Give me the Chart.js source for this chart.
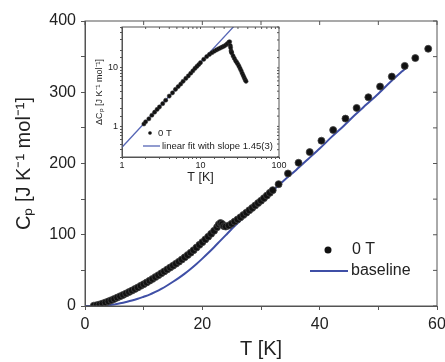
<!DOCTYPE html>
<html>
<head>
<meta charset="utf-8">
<title>Cp vs T</title>
<script src="https://cdn.jsdelivr.net/npm/chart.js"></script>
<style>
  html, body { margin: 0; padding: 0; background: #fff; }
  #wrap { position: relative; width: 445px; height: 362px; }
  #main { position: absolute; left: 0; top: 0; }
  #inset { position: absolute; left: 90px; top: 20px; }
</style>
</head>
<body>
<div id="wrap">
  <canvas id="main" width="445" height="362"></canvas>
  <canvas id="inset" width="200" height="175"></canvas>
</div>
<script>
  // measured heat capacity, 0 T
  const measuredT = [1.5, 2.0, 2.5, 3.0, 3.5, 4.0, 4.5, 5.0, 5.5, 6.0, 6.5, 7.0, 7.5, 8.0, 8.5, 9.0, 9.5,
    10.0, 10.5, 11.0, 11.5, 12.0, 12.5, 13.0, 13.5, 14.0, 14.5, 15.0, 15.5, 16.0, 16.5, 17.0, 17.5,
    18.0, 18.5, 19.0, 19.5, 20.0, 20.5, 21.0, 21.5, 22.0, 22.5, 22.8, 23.1, 23.4, 23.7, 24.0, 24.5,
    25.0, 25.5, 26.0, 26.5, 27.0, 27.5, 28.0, 28.5, 29.0, 29.5, 30.0, 30.5, 31.0, 31.5, 32.0,
    33.0, 34.6, 36.4, 38.3, 40.3, 42.3, 44.4, 46.3, 48.3, 50.3, 52.3, 54.5, 56.3, 58.5];
  const measuredCp = [0.5, 1.2, 2.2, 3.5, 5.0, 6.5, 8.2, 10.0, 11.8, 13.7, 15.6, 17.6, 19.6, 21.6, 23.8, 26.0, 28.3,
    30.6, 33.0, 35.5, 38.0, 40.6, 43.2, 45.8, 48.5, 51.2, 53.9, 56.6, 59.4, 62.2, 65.2, 68.3, 71.5,
    74.8, 78.3, 82.0, 85.8, 89.6, 93.4, 97.3, 101.3, 105.5, 110.5, 114.5, 116.5, 115.0, 112.0, 111.5, 113.0,
    115.5, 118.5, 121.5, 124.5, 127.8, 131.0, 134.3, 137.6, 141.0, 144.4, 147.8, 151.4, 155.0, 158.8, 162.6,
    171, 186, 201, 216, 232, 247, 263, 278, 293, 308, 322, 337, 348, 361];

  // lattice baseline
  const baselineT = [0, 1, 2, 3, 4, 5, 6, 7, 8, 9, 10, 11, 12, 13, 14, 15, 16, 17, 18, 19, 20, 21, 22, 23, 24,
    25, 26, 27, 28, 29, 30, 31, 32, 33, 34, 36, 38, 40, 42, 44, 46, 48, 50, 52, 54, 54.7];
  const baselineCp = [0, 0, 0.1, 0.4, 1.0, 2.2, 3.8, 5.6, 7.6, 10.1, 13, 16, 19.8, 24, 28.8, 34, 39.5, 45.5, 52,
    59, 66.5, 74.3, 82.5, 91, 99.5, 108, 116, 124, 132, 139.5, 147, 154.5, 162, 169.5, 177, 191, 206,
    221, 237, 252, 268, 283, 298, 314, 329, 334];

  // inset: magnetic part, log-log
  const insetT = [1.9, 2.0, 2.2, 2.4, 2.6, 2.8, 3.0, 3.3, 3.6, 4.0, 4.4, 4.8, 5.2, 5.6, 6.0, 6.5, 7.0, 7.5,
    8.0, 8.5, 9.0, 9.5, 10, 11, 12, 13, 14, 15, 16, 17, 18, 19, 20, 21, 22, 23, 23.5, 24, 24.2, 24.5,
    24.8, 25, 26, 27, 28, 29, 30, 31, 32, 33, 34, 35, 36, 37, 38];
  const insetDeltaCp = [1.1, 1.2, 1.35, 1.55, 1.75, 1.95, 2.15, 2.45, 2.8, 3.3, 3.75, 4.3, 4.8, 5.3, 5.9, 6.6,
    7.3, 8.1, 8.9, 9.8, 10.6, 11.4, 12.3, 14.0, 15.6, 17.0, 18.2, 19.3, 20.3, 21.2, 22.0, 22.8, 23.6,
    24.6, 26.0, 27.5, 28.0, 24.0, 22.0, 19.5, 18.7, 18.0, 16.0, 14.5, 13.2, 12.4, 11.5, 10.6, 9.7,
    8.9, 8.1, 7.4, 6.8, 6.3, 5.9];

  // linear fit (slope 1.45) end points
  const fitT = [1, 30];
  const fitDeltaCp = [0.44, 61];

  const toPoints = (xs, ys) => xs.map((x, i) => ({ x: x, y: ys[i] }));

  const FONT = 'Arial, "Liberation Sans", sans-serif';
  const axisColor = '#555';
  const textColor = '#222';
  const blue = '#3f4fa6';

  Chart.defaults.font.family = FONT;
  Chart.defaults.color = textColor;

  // box around the plot area + inward ticks on top/right
  const frame = {
    id: 'frame',
    afterDraw(chart, args, opts) {
      const { ctx, chartArea: a, scales } = chart;
      ctx.save();
      ctx.strokeStyle = axisColor;
      ctx.lineWidth = 1;
      ctx.strokeRect(a.left, a.top, a.right - a.left, a.bottom - a.top);
      ctx.beginPath();
      scales.x.ticks.forEach(t => {
        const px = scales.x.getPixelForValue(t.value);
        ctx.moveTo(px, a.top);
        ctx.lineTo(px, a.top + opts.len);
      });
      scales.y.ticks.forEach(t => {
        const py = scales.y.getPixelForValue(t.value);
        ctx.moveTo(a.right, py);
        ctx.lineTo(a.right - opts.len, py);
      });
      ctx.stroke();
      ctx.restore();
    }
  };

  const drawLegend = (chart, o) => {
    const ctx = chart.ctx;
    const ds = chart.data.datasets;
    ctx.save();
    ctx.font = o.size + 'px ' + FONT;
    ctx.textBaseline = 'middle';
    ctx.fillStyle = ds[0].backgroundColor;
    ctx.beginPath();
    ctx.arc(o.x, o.y, o.r, 0, Math.PI * 2);
    ctx.fill();
    ctx.fillStyle = textColor;
    ctx.fillText(ds[0].label, o.textX, o.y);
    ctx.strokeStyle = ds[1].borderColor;
    ctx.lineWidth = ds[1].borderWidth;
    ctx.beginPath();
    ctx.moveTo(o.lineX0, o.y + o.gap);
    ctx.lineTo(o.lineX1, o.y + o.gap);
    ctx.stroke();
    ctx.fillText(ds[1].label, o.textX2, o.y + o.gap);
    ctx.restore();
  };

  const mainLegend = {
    id: 'mainLegend',
    afterDraw(chart) {
      drawLegend(chart, { x: 328, y: 250, r: 3.5, size: 16, textX: 352, lineX0: 310, lineX1: 348, textX2: 351, gap: 21 });
    }
  };

  const insetLegend = {
    id: 'insetLegend',
    afterDraw(chart) {
      drawLegend(chart, { x: 60, y: 113, r: 1.8, size: 9.5, textX: 68, lineX0: 53, lineX1: 70, textX2: 72, gap: 13 });
    }
  };

  new Chart(document.getElementById('main'), {
    type: 'scatter',
    data: {
      datasets: [
        {
          label: '0 T',
          data: toPoints(measuredT, measuredCp),
          pointRadius: 3.5,
          backgroundColor: '#111',
          borderColor: '#444',
          borderWidth: 0.8
        },
        {
          label: 'baseline',
          data: toPoints(baselineT, baselineCp),
          showLine: true,
          pointRadius: 0,
          borderColor: blue,
          borderWidth: 2,
          tension: 0.3
        }
      ]
    },
    options: {
      responsive: false,
      animation: false,
      layout: { padding: { left: 0, right: 8, top: 21, bottom: 0 } },
      plugins: {
        legend: { display: false },
        tooltip: { enabled: false },
        frame: { len: 4 }
      },
      scales: {
        x: {
          type: 'linear', min: 0, max: 60,
          border: { color: axisColor },
          grid: { drawOnChartArea: false, tickLength: 4, color: axisColor },
          ticks: {
            stepSize: 10, autoSkip: false, maxRotation: 0, padding: 5,
            font: { size: 16 }, color: textColor,
            callback: v => (v % 20 === 0 ? String(v) : '')
          },
          title: { display: true, text: 'T [K]', font: { size: 20 }, padding: { top: 0, bottom: 1 } },
          afterFit: s => { s.height = 56; s.paddingLeft = 0; s.paddingRight = 0; }
        },
        y: {
          type: 'linear', min: 0, max: 400,
          border: { color: axisColor },
          grid: { drawOnChartArea: false, tickLength: 4, color: axisColor },
          ticks: {
            stepSize: 50, autoSkip: false, padding: 5,
            font: { size: 16 }, color: textColor,
            callback: v => (v % 100 === 0 ? String(v) : '')
          },
          title: { display: true, text: 'Cₚ [J K⁻¹ mol⁻¹]', font: { size: 20 }, padding: { top: 12, bottom: 0 } },
          afterFit: s => { s.width = 85; }
        }
      }
    },
    plugins: [frame, mainLegend]
  });

  new Chart(document.getElementById('inset'), {
    type: 'scatter',
    data: {
      datasets: [
        {
          label: '0 T',
          data: toPoints(insetT, insetDeltaCp),
          pointRadius: 2.1,
          backgroundColor: '#111',
          borderColor: '#333',
          borderWidth: 0.5
        },
        {
          label: 'linear fit with slope 1.45(3)',
          data: toPoints(fitT, fitDeltaCp),
          showLine: true,
          pointRadius: 0,
          borderColor: '#5565b5',
          borderWidth: 1.3
        }
      ]
    },
    options: {
      responsive: false,
      animation: false,
      layout: { padding: { left: 0, right: 11, top: 7, bottom: 0 } },
      plugins: {
        legend: { display: false },
        tooltip: { enabled: false },
        frame: { len: 2 }
      },
      scales: {
        x: {
          type: 'logarithmic', min: 1, max: 100,
          border: { color: axisColor },
          grid: { drawOnChartArea: false, tickLength: 2, color: axisColor },
          ticks: {
            autoSkip: false, maxRotation: 0, padding: 1,
            font: { size: 9 }, color: textColor,
            callback: v => ([1, 10, 100].includes(v) ? String(v) : '')
          },
          title: { display: true, text: 'T [K]', font: { size: 12.5 }, padding: { top: 0, bottom: 10 } },
          afterFit: s => { s.height = 38; s.paddingLeft = 0; s.paddingRight = 0; }
        },
        y: {
          type: 'logarithmic', min: 0.3, max: 50,
          border: { color: axisColor },
          grid: { drawOnChartArea: false, tickLength: 2, color: axisColor },
          ticks: {
            autoSkip: false, padding: 2,
            font: { size: 9 }, color: textColor,
            callback: v => ([1, 10].includes(v) ? String(v) : '')
          },
          title: { display: true, text: 'ΔCₚ [J K⁻¹ mol⁻¹]', font: { size: 9 }, padding: { top: 4, bottom: 0 } },
          afterFit: s => { s.width = 32; s.paddingTop = 0; s.paddingBottom = 0; }
        }
      }
    },
    plugins: [frame, insetLegend]
  });
</script>
</body>
</html>
